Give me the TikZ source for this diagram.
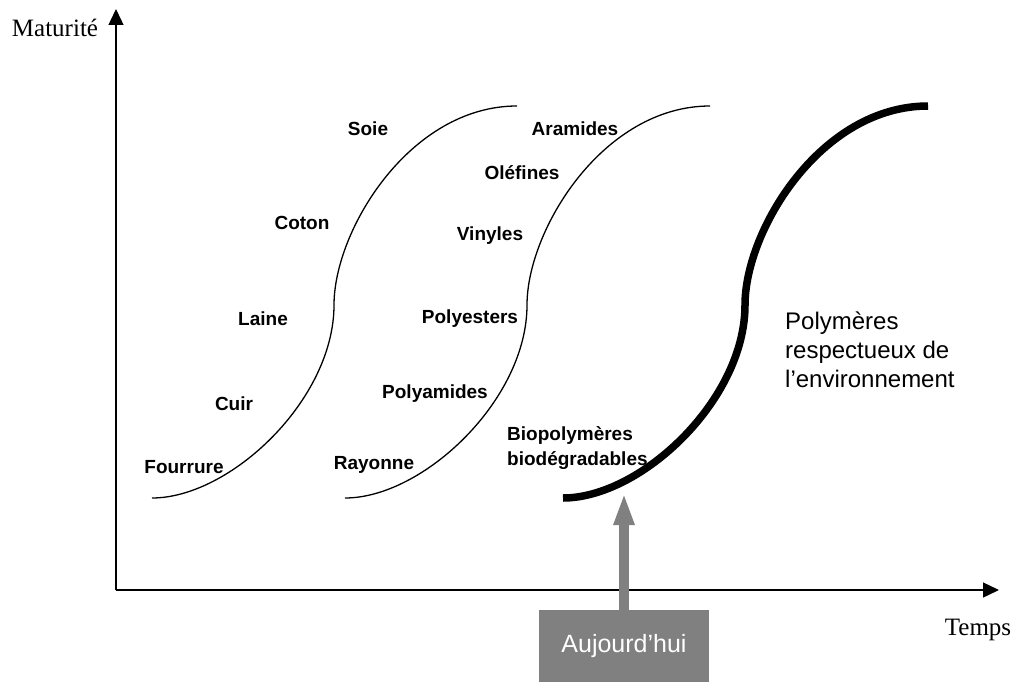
\documentclass[tikz,border=0pt]{standalone}
\usepackage{fontspec}
\setmainfont{Liberation Serif}
\newfontfamily\lblfont{Liberation Sans}
\usetikzlibrary{arrows.meta}
\definecolor{boxgray}{RGB}{128,128,128}
\tikzset{
  lbl/.style={font=\lblfont\bfseries\fontsize{19}{24}\selectfont, inner sep=0pt},
  biglbl/.style={font=\lblfont\fontsize{24}{29}\selectfont, inner sep=0pt, align=left, anchor=west},
  axislbl/.style={font=\fontsize{25}{30}\selectfont, inner sep=0pt},
  axis/.style={line width=1.3pt, -{Triangle[length=16pt,width=15pt]}},
  scurve/.style={line width=1.3pt},
  thickcurve/.style={line width=7.5pt},
  todaybox/.style={fill=boxgray, draw=none, minimum width=170pt, minimum height=72pt, inner sep=0pt, text=white, font=\lblfont\fontsize{25}{30}\selectfont},
  todayarrow/.style={draw=boxgray, line width=10pt, -{Triangle[length=32pt,width=19pt]}}
}
\begin{document}
\begin{tikzpicture}[x=1pt,y=-1pt]
\useasboundingbox (0,0) rectangle (1016,682);
% axes
\coordinate (O) at (116,590);
\coordinate (ytop) at (116,9);
\coordinate (xend) at (999,590);
\draw[axis] (O) -- (ytop);
\draw[axis] (O) -- (xend);
\node[axislbl] (mat) at (55,28) {Maturité};
\node[axislbl] (temps) at (978,630) {Temps};
% S-curves
\foreach \dx/\st in {0/scurve, 193/scurve, 411/thickcurve}{
  \draw[\st, xshift=\dx pt] (152,498) .. controls (230,498) and (334,400) .. (334,305)
     .. controls (334,230) and (410,106) .. (517,106);
}
% labels curve 1
\node[lbl] (soie) at (368,129) {Soie};
\node[lbl] (coton) at (302,223) {Coton};
\node[lbl] (laine) at (263,319) {Laine};
\node[lbl] (cuir) at (234,404) {Cuir};
\node[lbl] (fourrure) at (184,467) {Fourrure};
% labels curve 2
\node[lbl] (aramides) at (575,129) {Aramides};
\node[lbl] (olefines) at (522,173) {Oléfines};
\node[lbl] (vinyles) at (490,236) {Vinyles};
\node[lbl] (polyesters) at (470,319) {Polyesters};
\node[lbl] (polyamides) at (435,394) {Polyamides};
\node[lbl] (rayonne) at (374,465) {Rayonne};
% labels curve 3
\node[lbl, align=left, anchor=west, font=\lblfont\bfseries\fontsize{19}{25}\selectfont] (bio) at (507,448) {Biopolymères\\biodégradables};
\node[biglbl] (resp) at (785,350) {Polymères\\respectueux de\\l’environnement};
% today
\node[todaybox] (box) at (624,646) {Aujourd’hui};
\coordinate (tip) at (624,493);
\draw[todayarrow] (box.north) -- (tip);
\end{tikzpicture}
\end{document}
